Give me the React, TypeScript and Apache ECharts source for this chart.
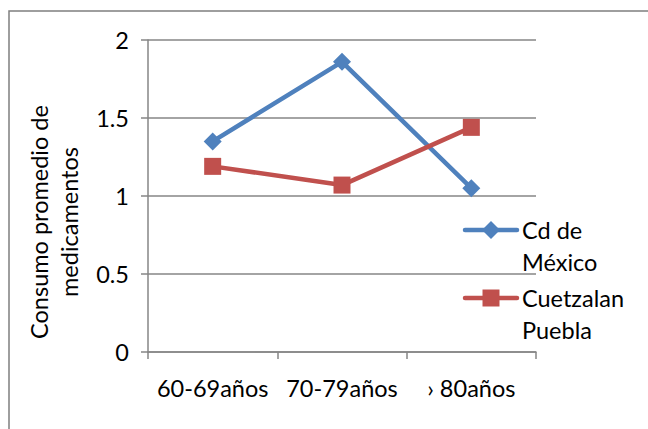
import React, { useEffect, useRef } from "react";
import * as echarts from "echarts";

const categories = ["60-69años", "70-79años", "› 80años"];
const cdMexico = [1.35, 1.86, 1.05];
const cuetzalan = [1.19, 1.07, 1.44];
const seriesNames = ["Cd de\nMéxico", "Cuetzalan\nPuebla"];
const yTitle = "Consumo promedio de\nmedicamentos";

const BLUE = "#4F81BD";
const RED = "#C0504D";
const GRID = "#868686";
const FONT = "Lato, 'Noto Sans', sans-serif";
const FS = 23.5;

export default function App() {
  const ref = useRef<HTMLDivElement>(null);
  useEffect(() => {
    if (!ref.current) return;
    const chart = echarts.init(ref.current, null, { renderer: "svg" });
    const legendItem = (y: number, color: string, name: string, diamond: boolean) => ({
      type: "group",
      children: [
        {
          type: "line",
          shape: { x1: 465, y1: y, x2: 517, y2: y },
          style: { stroke: color, lineWidth: 4.5, lineCap: "round" },
        },
        diamond
          ? {
              type: "polygon",
              shape: { points: [[491, y - 9], [500, y], [491, y + 9], [482, y]] },
              style: { fill: color },
            }
          : {
              type: "rect",
              shape: { x: 482.5, y: y - 8.5, width: 17, height: 17 },
              style: { fill: color },
            },
        {
          type: "text",
          x: 522,
          y: y - 16,
          style: {
            text: name,
            font: `${FS}px ${FONT}`,
            fill: "#000",
            lineHeight: 32,
            verticalAlign: "top",
          },
        },
      ],
    });
    chart.setOption({
      animation: false,
      backgroundColor: "#fff",
      grid: { left: 148, right: 112, top: 40, bottom: 77 },
      xAxis: {
        type: "category",
        data: categories,
        boundaryGap: true,
        axisLine: { lineStyle: { color: GRID, width: 1.5 } },
        axisTick: { show: true, length: 7, inside: false, lineStyle: { color: GRID, width: 1.5 } },
        axisLabel: {
          color: "#000",
          fontSize: FS,
          fontFamily: FONT,
          margin: 24,
          interval: 0,
          hideOverlap: false,
        },
      },
      yAxis: {
        type: "value",
        min: 0,
        max: 2,
        interval: 0.5,
        axisLine: { show: true, lineStyle: { color: GRID, width: 1.5 } },
        axisTick: { show: true, length: 7, lineStyle: { color: GRID, width: 1.5 } },
        axisLabel: { color: "#000", fontSize: FS, fontFamily: FONT, margin: 19 },
        splitLine: { lineStyle: { color: GRID, width: 1.5 } },
      },
      series: [
        {
          name: seriesNames[0],
          type: "line",
          data: cdMexico,
          symbol: "diamond",
          symbolSize: 18,
          lineStyle: { color: BLUE, width: 4.5 },
          itemStyle: { color: BLUE },
        },
        {
          name: seriesNames[1],
          type: "line",
          data: cuetzalan,
          symbol: "rect",
          symbolSize: 17,
          lineStyle: { color: RED, width: 4.5 },
          itemStyle: { color: RED },
        },
      ],
      graphic: [
        {
          type: "rect",
          shape: { x: 9, y: 11, width: 800, height: 600 },
          style: { fill: "none", stroke: "#7f7f7f", lineWidth: 1.5 },
          z: -1,
        },
        {
          type: "text",
          x: 54,
          y: 222,
          rotation: Math.PI / 2,
          style: {
            text: yTitle,
            font: `${FS}px ${FONT}`,
            fill: "#000",
            align: "center",
            verticalAlign: "middle",
            lineHeight: 30,
          },
        },
        legendItem(230, BLUE, seriesNames[0], true),
        legendItem(298, RED, seriesNames[1], false),
      ],
    });
    return () => chart.dispose();
  }, []);
  return (
    <div
      ref={ref}
      style={{ position: "fixed", left: 0, top: 0, width: 648, height: 429 }}
    />
  );
}
